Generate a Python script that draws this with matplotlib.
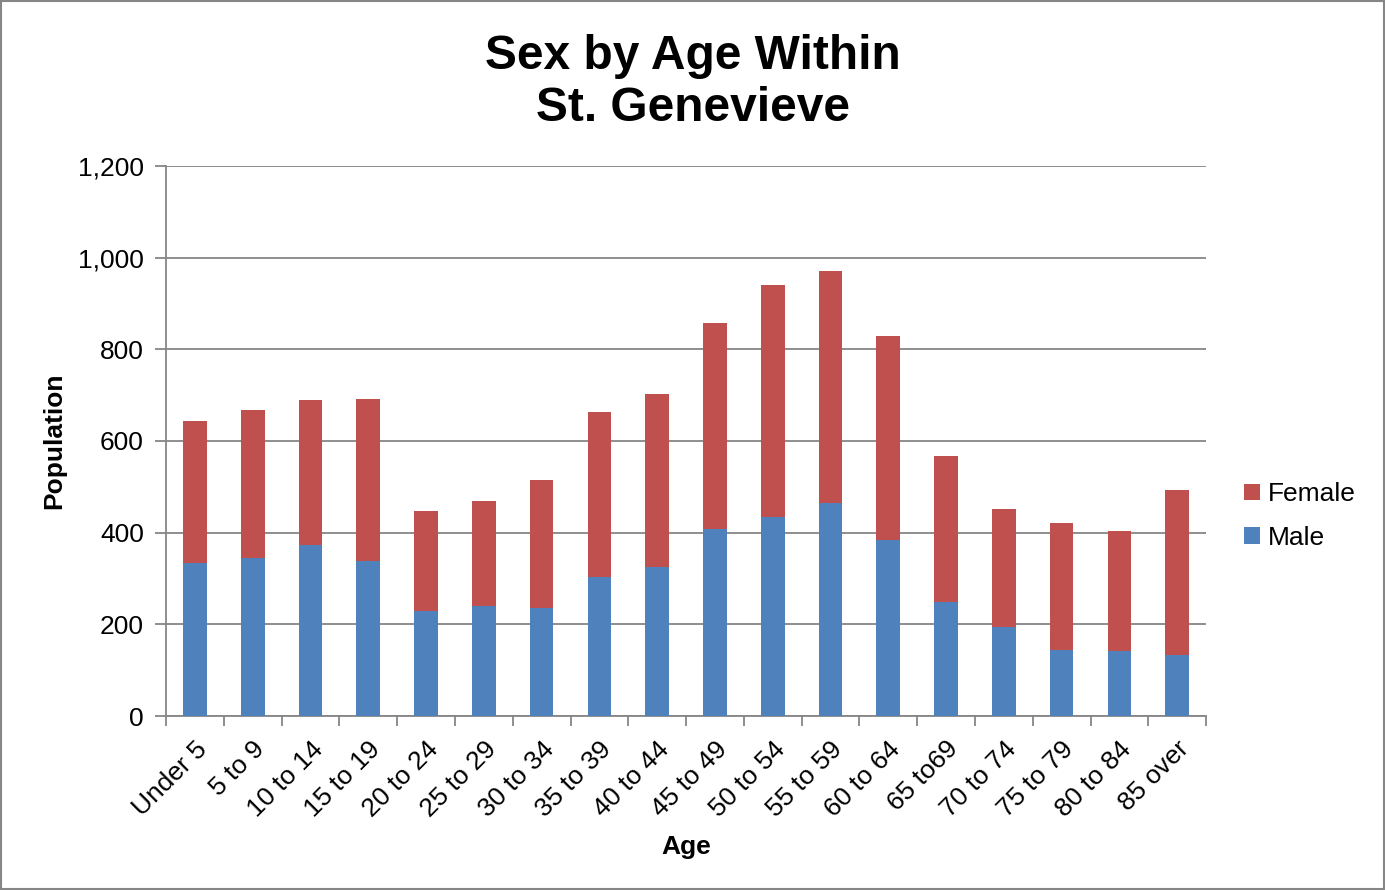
import numpy as np
import matplotlib
matplotlib.use('Agg')
import matplotlib.pyplot as plt
from matplotlib.ticker import FuncFormatter, FixedLocator

plt.rcParams['font.family'] = ['Liberation Sans', 'DejaVu Sans']

ages = ['Under 5', '5 to 9', '10 to 14', '15 to 19', '20 to 24', '25 to 29',
        '30 to 34', '35 to 39', '40 to 44', '45 to 49', '50 to 54', '55 to 59',
        '60 to 64', '65 to69', '70 to 74', '75 to 79', '80 to 84', '85 over']
male = [334, 345, 373, 338, 229, 240, 236, 303, 325, 408, 434, 465,
        384, 249, 194, 144, 142, 133]
total = [644, 668, 690, 692, 447, 469, 515, 663, 703, 857, 940, 971,
         829, 567, 452, 421, 404, 493]
female = [t - m for t, m in zip(total, male)]

blue = '#4F81BD'
red = '#C0504D'
grey = '#868686'

fig = plt.figure(figsize=(13.85, 8.9), dpi=100)
ax = fig.add_axes([0.1199, 0.1955, 0.7509, 0.618])

x = np.arange(len(ages))
b1 = ax.bar(x, male, width=0.41, color=blue, label='Male', zorder=3)
b2 = ax.bar(x, female, width=0.41, bottom=male, color=red, label='Female', zorder=3)

ax.set_xlim(-0.5, len(ages) - 0.5)
ax.set_ylim(0, 1200)
ax.set_yticks(np.arange(0, 1201, 200))
ax.yaxis.set_major_formatter(FuncFormatter(lambda v, p: '{:,.0f}'.format(v)))
ax.grid(axis='y', color=grey, linewidth=1.3, zorder=0)

ax.set_xticks(x)
ax.set_xticklabels(ages, rotation=45, ha='right', rotation_mode='anchor', fontsize=19)
ax.xaxis.set_minor_locator(FixedLocator(np.arange(-0.5, len(ages), 1.0)))
ax.tick_params(axis='x', which='major', length=0, pad=15)
ax.tick_params(axis='x', which='minor', length=7, width=1.3, color=grey, direction='out')
ax.tick_params(axis='y', length=8, width=1.3, color=grey, labelsize=19, pad=8)

for s in ['top', 'right']:
    ax.spines[s].set_visible(False)
for s in ['left', 'bottom']:
    ax.spines[s].set_color(grey)
    ax.spines[s].set_linewidth(1.3)

ax.set_xlabel('Age', fontweight='bold', fontsize=19, labelpad=10)
ax.set_ylabel('Population', fontweight='bold', fontsize=19, labelpad=8)

fig.suptitle('Sex by Age Within\nSt. Genevieve', fontweight='bold', fontsize=34.5,
             y=0.962, linespacing=1.2)

fig.legend([b2, b1], ['Female', 'Male'], loc='center left', bbox_to_anchor=(0.881, 0.42),
           frameon=False, fontsize=19, handlelength=0.6, handleheight=0.6,
           handletextpad=0.3, labelspacing=0.75)

fig.patches.append(plt.Rectangle((0.001, 0.001), 0.998, 0.998, transform=fig.transFigure,
                                 fill=False, edgecolor=grey, linewidth=1.5))

fig.savefig('out.png', dpi=100)
